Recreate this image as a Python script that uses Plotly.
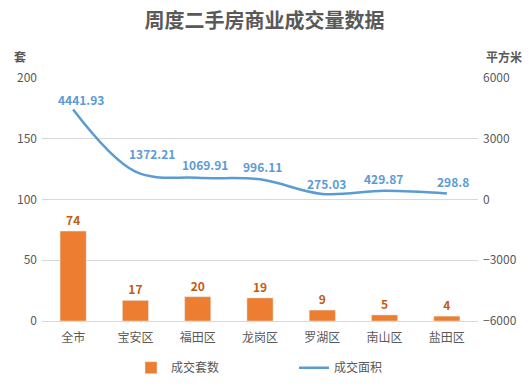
import plotly.graph_objects as go

categories = ["全市", "宝安区", "福田区", "龙岗区", "罗湖区", "南山区", "盐田区"]
units = [74, 17, 20, 19, 9, 5, 4]
area = [4441.93, 1372.21, 1069.91, 996.11, 275.03, 429.87, 298.8]
area_labels = ["4441.93", "1372.21", "1069.91", "996.11", "275.03", "429.87", "298.8"]
left_ticks = [0, 50, 100, 150, 200]
right_ticks = [-6000, -3000, 0, 3000, 6000]

# label placement offsets (px) for line data labels
label_dx = [8, 17, 7, 2, 4, -1, 6]
label_dy = [10, 18, 13, 13, 10, 12, 12]

FONT = "Noto Sans CJK SC"
fig = go.Figure()
fig.add_trace(go.Bar(
    x=categories, y=units, name="成交套数",
    marker=dict(color="#ED7D31"), width=0.42,
    text=[str(v) for v in units], textposition="outside",
    textfont=dict(color="#C55A11", size=12, family=FONT, weight="bold"),
    cliponaxis=False,
))
fig.add_trace(go.Scatter(
    x=categories, y=area, name="成交面积", yaxis="y2",
    mode="lines", line=dict(color="#5B9BD5", width=2.5, shape="spline", smoothing=1),
    cliponaxis=False,
))

annotations = [
    dict(text="<b>套</b>", xref="paper", yref="paper", x=-0.05, y=1.09, xanchor="center", yanchor="middle",
         showarrow=False, font=dict(size=12, color="#595959")),
    dict(text="<b>平方米</b>", xref="paper", yref="paper", x=1.06, y=1.09, xanchor="center", yanchor="middle",
         showarrow=False, font=dict(size=12, color="#595959")),
]
for c, v, t, dx, dy in zip(categories, area, area_labels, label_dx, label_dy):
    annotations.append(dict(
        x=c, y=v, xref="x", yref="y2", text=f"<b>{t}</b>", showarrow=False,
        xanchor="center", yanchor="middle", xshift=dx, yshift=dy,
        font=dict(color="#5B9BD5", size=12, family=FONT),
    ))

fig.update_layout(
    width=529, height=388,
    margin=dict(l=42, r=51, t=78, b=67, autoexpand=False),
    paper_bgcolor="white", plot_bgcolor="white",
    font=dict(family=FONT, color="#595959", size=12),
    title=dict(text="<b>周度二手房商业成交量数据</b>", x=0.5, xanchor="center", y=0.947, yanchor="middle",
               font=dict(size=20, color="#595959", family=FONT)),
    xaxis=dict(showgrid=False, showline=True, linecolor="#D9D9D9", automargin=False,
               tickfont=dict(size=12, color="#595959"), ticks="", ticklabelstandoff=6),
    yaxis=dict(range=[0, 200], tickvals=left_ticks, showgrid=True, gridcolor="#D9D9D9", zeroline=False,
               automargin=False, tickfont=dict(size=12, color="#595959"), ticklabelstandoff=4),
    yaxis2=dict(range=[-6000, 6000], tickvals=right_ticks, overlaying="y", side="right", showgrid=False,
                automargin=False, zeroline=False, tickfont=dict(size=12, color="#595959"), ticklabelstandoff=4),
    legend=dict(orientation="h", x=0.578, xanchor="center", y=-0.192, yanchor="middle",
                itemwidth=30, entrywidth=118,
                font=dict(size=12, color="#595959")),
    annotations=annotations,
)
fig.write_html("out.html", config={"displayModeBar": False},
               post_script="document.body.style.margin='0';")
